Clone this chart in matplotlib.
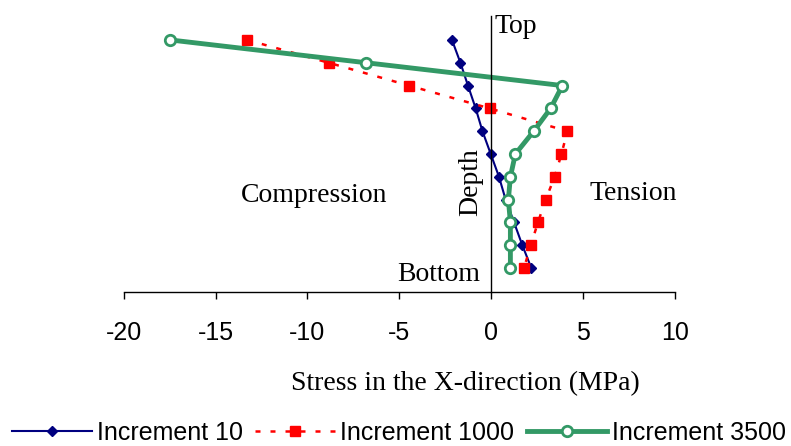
import matplotlib
matplotlib.use("Agg")
import matplotlib.pyplot as plt

depth = [0, 1, 2, 3, 4, 5, 6, 7, 8, 9, 10]
inc10 = [-2.13, -1.67, -1.26, -0.84, -0.47, -0.02, 0.43, 0.79, 1.25, 1.70, 2.19]
inc1000 = [-13.27, -8.84, -4.47, -0.08, 4.15, 3.83, 3.46, 2.97, 2.55, 2.16, 1.79]
inc3500 = [-17.46, -6.79, 3.88, 3.24, 2.32, 1.32, 1.05, 0.94, 1.05, 1.05, 1.05]
xticks = [-20, -15, -10, -5, 0, 5, 10]

serif = "Liberation Serif"
sans = "Liberation Sans"

fig = plt.figure(figsize=(7.91, 4.46), dpi=100)
ax = fig.add_axes([0.1564, 0.3453, 0.6967, 0.6188])

ax.plot(inc10, depth, color="#000080", lw=1.5, marker="D", markersize=5.5,
        label="Increment 10")
ax.plot(inc1000, depth, color="#FF0000", lw=1.8, dashes=(2, 4), marker="s",
        markersize=7, label="Increment 1000")
ax.plot(inc3500, depth, color="#339966", lw=3.5, marker="o", markersize=7.5,
        markerfacecolor="white", markeredgewidth=2, label="Increment 3500")

ax.set_xlim(-20, 10)
ax.set_ylim(11.05, -1.05)
ax.set_xticks(xticks)
ax.set_xticklabels([str(t) for t in xticks], fontfamily=sans, fontsize=18)
ax.tick_params(axis="x", direction="out", length=5, width=1, pad=16)
ax.set_yticks([])
for s in ["top", "right"]:
    ax.spines[s].set_visible(False)
ax.spines["left"].set_position(("data", 0))
ax.spines["left"].set_linewidth(1)
ax.spines["bottom"].set_linewidth(1)

ax.text(0.2, -0.31, "Top", fontfamily=serif, fontsize=20, ha="left", va="baseline")
ax.text(-0.62, 10.57, "Bottom", fontfamily=serif, fontsize=20, ha="right", va="baseline")
ax.text(-13.6, 7.09, "Compression", fontfamily=serif, fontsize=20, ha="left", va="baseline")
ax.text(5.37, 7.02, "Tension", fontfamily=serif, fontsize=20, ha="left", va="baseline")
ax.text(-1.10, 6.23, "Depth", fontfamily=serif, fontsize=20, ha="center", va="center",
        rotation=90)

fig.text(465 / 791, 1 - 384 / 446, "Stress in the X-direction (MPa)", fontfamily=serif,
         fontsize=20, ha="center", va="center")

leg = fig.legend(loc="center", bbox_to_anchor=(0.504, 0.03), ncol=3, frameon=False,
                 prop={"family": sans, "size": 18}, handlelength=3.2,
                 handletextpad=0.2, columnspacing=0.5, numpoints=1,
                 borderpad=0, borderaxespad=0)

fig.savefig("out.png", dpi=100)
